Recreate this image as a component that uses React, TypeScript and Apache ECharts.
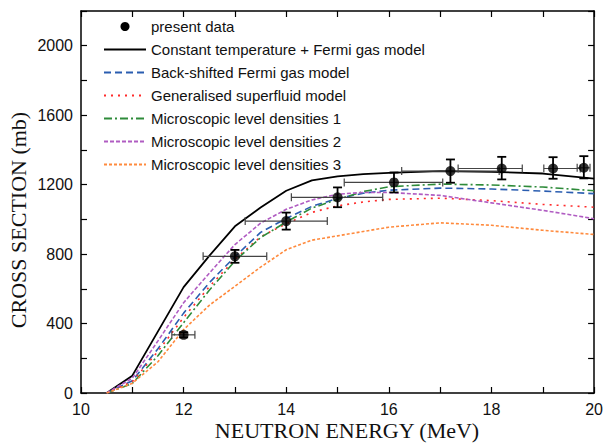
import React, { useEffect, useRef } from "react";
import * as echarts from "echarts";

// Model curves (MeV, mb)
const energyGrid = [10.5, 11, 11.5, 12, 12.5, 13, 13.5, 14, 14.5, 15, 15.5, 16, 17, 18, 19, 20];
const ctFermi = [0, 100, 355, 610, 790, 960, 1068, 1165, 1225, 1248, 1260, 1268, 1278, 1274, 1264, 1235];
const bsfg = [0, 70, 255, 460, 635, 785, 925, 1005, 1075, 1120, 1150, 1168, 1180, 1175, 1163, 1148];
const gsm = [0, 65, 240, 435, 612, 770, 900, 975, 1040, 1078, 1100, 1115, 1122, 1108, 1086, 1070];
const mld1 = [0, 55, 215, 405, 592, 760, 895, 985, 1065, 1115, 1160, 1188, 1203, 1198, 1186, 1165];
const mld2 = [0, 85, 300, 520, 690, 855, 978, 1058, 1112, 1145, 1155, 1155, 1138, 1095, 1052, 1004];
const mld3 = [0, 56, 180, 365, 505, 615, 725, 825, 880, 905, 930, 955, 980, 966, 937, 913];

// Measured data with uncertainties
const dataEnergy = [12.0, 13.0, 14.0, 15.0, 16.1, 17.2, 18.2, 19.2, 19.8];
const dataXs = [335, 787, 990, 1127, 1213, 1278, 1293, 1293, 1297];
const dataElo = [11.77, 12.38, 13.2, 14.1, 15.13, 16.25, 17.35, 19.02, 19.67];
const dataEhi = [12.22, 13.62, 14.8, 15.88, 17.05, 18.15, 18.6, 19.73, 19.92];
const dataXsLo = [320, 750, 941, 1070, 1155, 1211, 1230, 1234, 1236];
const dataXsHi = [350, 824, 1039, 1184, 1270, 1345, 1360, 1358, 1364];

const xTicks = { min: 10, max: 20, step: 1 };
const yTicks = { min: 0, max: 2200, step: 200 };

const names = [
  "present data",
  "Constant temperature + Fermi gas model",
  "Back-shifted Fermi gas model",
  "Generalised superfluid model",
  "Microscopic level densities 1",
  "Microscopic level densities 2",
  "Microscopic level densities 3",
];

export default function App() {
  const ref = useRef<HTMLDivElement>(null);
  useEffect(() => {
    if (!ref.current) return;
    document.body.style.margin = "0";
    const chart = echarts.init(ref.current, undefined, { renderer: "svg" });
    const pair = (ys: number[]) => energyGrid.map((e, i) => [e, ys[i]]);
    const sansFont = "Liberation Sans";
    const lineSeries = (name: string, ys: number[], color: string, type: any, width = 1.6) => ({
      name,
      type: "line",
      data: pair(ys),
      symbol: "none",
      showSymbol: false,
      smooth: false,
      lineStyle: { color, width, type },
      itemStyle: { color },
      z: 3,
    });
    const commonAxis = {
      axisLine: { show: true, onZero: false, lineStyle: { color: "#000", width: 1.5 } },
      axisTick: { show: true, inside: true, length: 6, lineStyle: { color: "#000", width: 1.2 } },
      splitLine: { show: false },
    };
    chart.setOption({
      animation: false,
      backgroundColor: "#fff",
      grid: { left: 81, right: 10, top: 11, bottom: 53, containLabel: false },
      legend: {
        orient: "vertical",
        left: 103,
        top: 19,
        padding: 0,
        itemWidth: 42,
        itemHeight: 9,
        itemGap: 8,
        selectedMode: false,
        itemStyle: { opacity: 0 },
        data: names.map((n, i) =>
          i === 0 ? { name: n, icon: "circle", itemStyle: { opacity: 1, color: "#000" } } : { name: n }
        ),
        textStyle: { fontFamily: sansFont, fontSize: 15, color: "#111", lineHeight: 15 },
      },
      xAxis: [
        {
          type: "value",
          min: xTicks.min,
          max: xTicks.max,
          interval: xTicks.step,
          ...commonAxis,
          axisLabel: {
            margin: 8,
            fontFamily: sansFont,
            fontSize: 16,
            color: "#111",
            formatter: (v: number) => (v % 2 === 0 ? String(v) : ""),
          },
        },
        {
          type: "value",
          position: "top",
          min: xTicks.min,
          max: xTicks.max,
          interval: xTicks.step,
          ...commonAxis,
          axisLabel: { show: false },
        },
      ],
      yAxis: [
        {
          type: "value",
          min: yTicks.min,
          max: yTicks.max,
          interval: yTicks.step,
          ...commonAxis,
          axisLabel: {
            margin: 8,
            fontFamily: sansFont,
            fontSize: 16,
            color: "#111",
            formatter: (v: number) => (v % 400 === 0 ? String(v) : ""),
          },
        },
        {
          type: "value",
          position: "right",
          min: yTicks.min,
          max: yTicks.max,
          interval: yTicks.step,
          ...commonAxis,
          axisLabel: { show: false },
        },
      ],
      graphic: [
        {
          type: "text",
          x: 347,
          y: 430,
          style: {
            text: "NEUTRON ENERGY (MeV)",
            font: '22px "Liberation Serif"',
            fill: "#111",
            align: "center",
            verticalAlign: "middle",
          },
        },
        {
          type: "text",
          x: 18,
          y: 220,
          rotation: Math.PI / 2,
          style: {
            text: "CROSS SECTION (mb)",
            font: '22px "Liberation Serif"',
            fill: "#111",
            align: "center",
            verticalAlign: "middle",
          },
        },
      ],
      series: [
        {
          name: names[0],
          type: "scatter",
          data: dataEnergy.map((e, i) => [e, dataXs[i]]),
          symbol: "circle",
          symbolSize: 10,
          itemStyle: { color: "#000" },
          z: 6,
        },
        lineSeries(names[1], ctFermi, "#000", "solid", 1.8),
        lineSeries(names[2], bsfg, "#2a5db0", [7, 4]),
        lineSeries(names[3], gsm, "#ff2b2b", [2, 5]),
        lineSeries(names[4], mld1, "#2e8b3a", [8, 3, 2, 3]),
        lineSeries(names[5], mld2, "#b05cc2", [4, 2]),
        lineSeries(names[6], mld3, "#ff8a3d", [3, 2]),
        {
          name: "errors",
          type: "custom",
          z: 5,
          data: dataEnergy.map((e, i) => [e, dataXs[i], dataElo[i], dataEhi[i], dataXsLo[i], dataXsHi[i]]),
          encode: { x: 0, y: 1 },
          renderItem: (params: any, api: any) => {
            const x = api.value(0);
            const y = api.value(1);
            const pl = api.coord([api.value(2), y]);
            const pr = api.coord([api.value(3), y]);
            const pb = api.coord([x, api.value(4)]);
            const pt = api.coord([x, api.value(5)]);
            const hs = { stroke: "#444", lineWidth: 1.2 };
            const vs = { stroke: "#000", lineWidth: 1.8 };
            return {
              type: "group",
              children: [
                { type: "line", shape: { x1: pl[0], y1: pl[1], x2: pr[0], y2: pr[1] }, style: hs },
                { type: "line", shape: { x1: pl[0], y1: pl[1] - 4, x2: pl[0], y2: pl[1] + 4 }, style: hs },
                { type: "line", shape: { x1: pr[0], y1: pr[1] - 4, x2: pr[0], y2: pr[1] + 4 }, style: hs },
                { type: "line", shape: { x1: pb[0], y1: pb[1], x2: pt[0], y2: pt[1] }, style: vs },
                { type: "line", shape: { x1: pb[0] - 4.5, y1: pb[1], x2: pb[0] + 4.5, y2: pb[1] }, style: vs },
                { type: "line", shape: { x1: pt[0] - 4.5, y1: pt[1], x2: pt[0] + 4.5, y2: pt[1] }, style: vs },
              ],
            };
          },
        },
      ],
    });
    return () => chart.dispose();
  }, []);
  return <div ref={ref} style={{ width: 606, height: 446 }} />;
}
